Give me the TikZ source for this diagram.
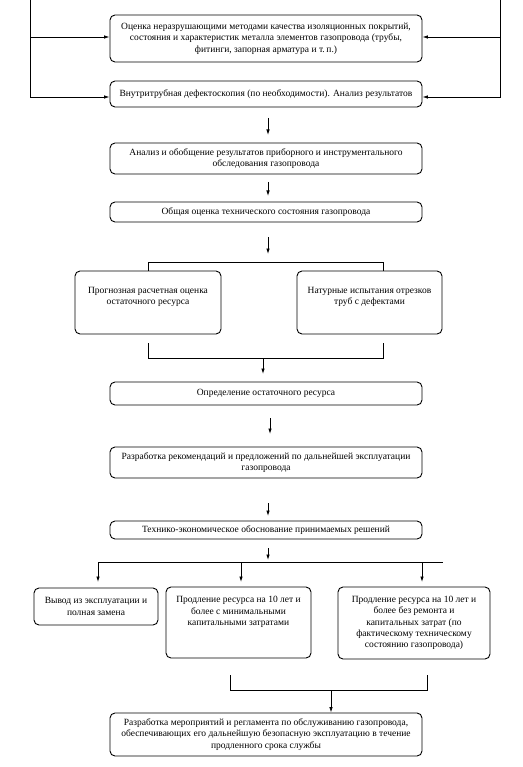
\documentclass[tikz,border=0pt]{standalone}
\usepackage{fontspec}
\setmainfont{Liberation Serif}
\usetikzlibrary{arrows.meta,calc}
\begin{document}
\begin{tikzpicture}[x=1pt,y=-1pt,
  box/.style={draw,line width=0.9pt,rounded corners=5pt,align=center,inner xsep=3pt,inner ysep=2pt,font=\fontsize{9.5}{11.4}\selectfont},
  conn/.style={line width=0.8pt},
  arr/.style={line width=0.8pt,-{Latex[length=5.5pt,width=3.5pt]}}]
\useasboundingbox (0,0) rectangle (522,767);
\fill[white] (0,0) rectangle (522,767);
% boxes
\node[box,minimum width=312pt,minimum height=47pt] (b1) at (266,38.5) {Оценка неразрушающими методами качества изоляционных покрытий,\\ состояния и характеристик металла элементов газопровода (трубы,\\ фитинги, запорная арматура и т.\,п.)};
\node[box,minimum width=312pt,minimum height=26pt] (b2) at (266,94) {Внутритрубная дефектоскопия (по необходимости). Анализ результатов};
\node[box,minimum width=312pt,minimum height=31pt] (b3) at (266,158.5) {Анализ и обобщение результатов приборного и инструментального\\ обследования газопровода};
\node[box,minimum width=312pt,minimum height=20pt] (b4) at (266,212) {Общая оценка технического состояния газопровода};
\node[box,minimum width=146pt,minimum height=63pt] (bL) at (148,302.5) {Прогнозная расчетная оценка\\ остаточного ресурса\\[2pt]};
\node[box,minimum width=145pt,minimum height=63pt] (bR) at (369.5,302.5) {Натурные испытания отрезков\\ труб с дефектами\\[2pt]};
\node[box,minimum width=312pt,minimum height=23pt] (b5) at (266,393.5) {Определение остаточного ресурса};
\node[box,minimum width=312pt,minimum height=31pt] (b6) at (266,462.5) {Разработка рекомендаций и предложений по дальнейшей эксплуатации\\ газопровода};
\node[box,minimum width=312pt,minimum height=18pt] (b7) at (266,530) {Технико-экономическое обоснование принимаемых решений};
\node[box,minimum width=124pt,minimum height=37pt] (b8) at (96,606.5) {Вывод из эксплуатации и\\ полная замена};
\node[box,minimum width=145pt,minimum height=71pt] (b9) at (238.5,622.5) {Продление ресурса на 10 лет и\\ более с минимальными\\ капитальными затратами\\ \mbox{}\\ \mbox{}};
\node[box,minimum width=152pt,minimum height=72pt] (b10) at (414,623) {Продление ресурса на 10 лет и\\ более без ремонта и\\ капитальных затрат (по\\ фактическому техническому\\ состоянию газопровода)};
\node[box,minimum width=312pt,minimum height=43pt] (b11) at (266,734.5) {Разработка мероприятий и регламента по обслуживанию газопровода,\\ обеспечивающих его дальнейшую безопасную эксплуатацию в течение\\ продленного срока службы};
% side feedback lines
\coordinate (ltop) at (30,0);
\coordinate (rtop) at (500,0);
\draw[arr] (ltop) |- (b2.west |- 0,97);
\draw[arr] (ltop |- 0,37) -- (b1.west |- 0,37);
\draw[arr] (rtop) |- (b2.east |- 0,97);
\draw[arr] (rtop |- 0,37) -- (b1.east |- 0,37);
% vertical arrows
\draw[arr] (268,118) -- (268,135);
\draw[arr] (268,182) -- (268,196);
\draw[arr] (268,237) -- (268,254);
% bracket top of row 2
\coordinate (bk1) at (148,262);
\coordinate (bk2) at (383,262);
\draw[conn] (bk1 |- bL.north) -- (bk1) -- (bk2) -- (bk2 |- bR.north);
% bracket bottom of row 2
\coordinate (bk3) at (148,358);
\coordinate (bk4) at (383,358);
\coordinate (bk5) at (263,358);
\draw[conn] (148,343) -- (bk3) -- (bk4) -- (383,343);
\draw[arr] (bk5) -- (263,374);
\draw[arr] (270,418) -- (270,434);
\draw[arr] (268,503) -- (268,516);
% fan
\draw[arr] (268,548) -- (268,560);
\coordinate (f1) at (98,562);
\coordinate (f2) at (443,562);
\draw[conn] (f1) -- (f2);
\draw[arr] (f1) -- (98,582);
\draw[arr] (241,562) -- (241,582);
\draw[arr] (422,562) -- (422,582);
% bottom bracket
\coordinate (g1) at (230,690);
\coordinate (g2) at (427,690);
\draw[conn] (230,675) -- (g1) -- (g2) -- (427,675);
\draw[arr] (331,690) -- (b11.north -| 331,0);
\end{tikzpicture}
\end{document}
